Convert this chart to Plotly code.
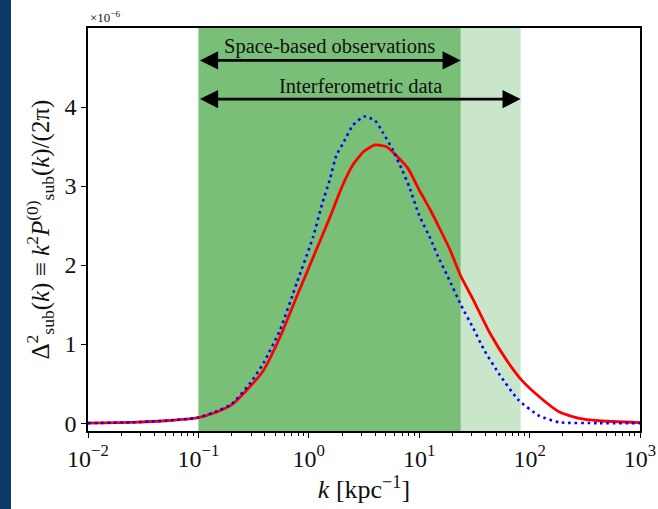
import numpy as np
import plotly.graph_objects as go

# ---- data ----
log_k_red = [-2, -1.6, -1.3, -1.0, -0.835, -0.7, -0.534, -0.41, -0.26, -0.11, 0.04, 0.19, 0.30, 0.40,
             0.50, 0.60, 0.70, 0.79, 0.90, 1.0, 1.1, 1.19, 1.28, 1.38, 1.49, 1.64, 1.79, 1.93,
             2.09, 2.27, 2.45, 2.63, 3.0]
red_vals = [0, 0.01, 0.03, 0.07, 0.14, 0.23, 0.46, 0.67, 1.09, 1.60, 2.10, 2.60, 2.99, 3.27,
            3.44, 3.52, 3.50, 3.39, 3.22, 2.95, 2.70, 2.45, 2.19, 1.85, 1.56, 1.14, 0.80, 0.54,
            0.33, 0.14, 0.06, 0.03, 0.005]

log_k_blue = [-2, -1.6, -1.3, -1.0, -0.835, -0.7, -0.534, -0.41, -0.26, -0.11, 0.04, 0.12, 0.19,
              0.25, 0.31, 0.40, 0.50, 0.60, 0.67, 0.76, 0.84, 0.91, 1.0, 1.1, 1.17, 1.26, 1.38,
              1.49, 1.59, 1.73, 1.90, 2.09, 2.27, 2.63, 3.0]
blue_vals = [0, 0.01, 0.03, 0.07, 0.15, 0.24, 0.50, 0.76, 1.18, 1.77, 2.36, 2.77, 3.08,
             3.39, 3.54, 3.77, 3.88, 3.83, 3.68, 3.46, 3.22, 2.99, 2.63, 2.34, 2.11, 1.85, 1.49,
             1.20, 0.92, 0.61, 0.29, 0.09, 0.01, 0.0, 0.0]

space_range = [0.1, 23.8]        # kpc^-1
interf_range = [0.1, 83.0]       # kpc^-1

x_tickvals = [1e-2, 1e-1, 1e0, 1e1, 1e2, 1e3]
x_ticktext = ["10<sup>−2</sup>", "10<sup>−1</sup>", "10<sup>0</sup>",
              "10<sup>1</sup>", "10<sup>2</sup>", "10<sup>3</sup>"]
y_tickvals = [0, 1, 2, 3, 4]

FONT = "Liberation Serif"

k_red = [10 ** v for v in log_k_red]
k_blue = [10 ** v for v in log_k_blue]

minor_vals = [m * 10.0 ** e for e in range(-2, 3) for m in range(2, 10)]

fig = go.Figure()

fig.add_trace(go.Scatter(x=k_red, y=red_vals, mode="lines",
                         line=dict(color="#ff0000", width=2.8, shape="spline", smoothing=0.5),
                         showlegend=False))
fig.add_trace(go.Scatter(x=k_blue, y=blue_vals, mode="lines",
                         line=dict(color="#0000ff", width=2.6, dash="2.6px,3.8px",
                                   shape="spline", smoothing=0.5),
                         showlegend=False))

# shaded regions
fig.add_shape(type="rect", xref="x", yref="paper",
              x0=space_range[1], x1=interf_range[1], y0=0, y1=1,
              fillcolor="#cae6ca", line_width=0, layer="below")
fig.add_shape(type="rect", xref="x", yref="paper",
              x0=space_range[0], x1=space_range[1], y0=0, y1=1,
              fillcolor="#7abf78", line_width=0, layer="below")

# left dark strip
fig.add_shape(type="rect", xref="paper", yref="paper",
              x0=-0.1594, x1=-0.1395, y0=-0.2, y1=1.08,
              fillcolor="#0b3a66", line_width=0, layer="below")

# arrows (annotation coords on log axes are log10 units)
for rng, yv in [(space_range, 4.59), (interf_range, 4.10)]:
    fig.add_annotation(x=np.log10(rng[1]), y=yv, ax=np.log10(rng[0]), ay=yv,
                       xref="x", yref="y", axref="x", ayref="y",
                       showarrow=True, arrowhead=2, arrowside="end+start",
                       arrowsize=1.4, arrowwidth=2.6, arrowcolor="black", text="")

fig.add_annotation(x=0.19, y=4.77, xref="x", yref="y", text="Space-based observations",
                   showarrow=False, font=dict(family=FONT, size=20.5, color="#111"))
fig.add_annotation(x=0.47, y=4.26, xref="x", yref="y", text="Interferometric data",
                   showarrow=False, font=dict(family=FONT, size=20.5, color="#111"))

# offset text
fig.add_annotation(x=0.0, y=1.003, xref="paper", yref="paper", xanchor="left", yanchor="bottom",
                   text="×10<sup>−6</sup>", showarrow=False,
                   font=dict(family=FONT, size=13, color="#111"))

# y-axis label
fig.add_annotation(x=-0.087, y=0.5, xref="paper", yref="paper", textangle=-90,
                   xanchor="center", yanchor="middle", showarrow=False,
                   text="Δ<sup>2</sup><sub>sub</sub>(<i>k</i>) ≡ <i>k</i><sup>2</sup><i>P</i><sup>(0)</sup><sub>sub</sub>(<i>k</i>)/(2π)",
                   font=dict(family=FONT, size=25, color="#111"))

fig.update_xaxes(type="log", range=[-2, 3], tickvals=x_tickvals, ticktext=x_ticktext,
                 automargin=False,
                 ticks="outside", ticklen=5, tickwidth=1.2, tickcolor="black",
                 showline=True, linecolor="black", linewidth=1.5, mirror=True,
                 showgrid=False, zeroline=False,
                 tickfont=dict(family=FONT, size=24, color="#111"),
                 minor=dict(tickvals=minor_vals, ticks="outside", ticklen=3,
                            tickwidth=1, tickcolor="black", showgrid=False),
                 title=dict(text="<i>k</i> [kpc<sup>−1</sup>]",
                            font=dict(family=FONT, size=26, color="#111"), standoff=4))
fig.update_yaxes(range=[-0.1, 5.0], tickvals=y_tickvals, automargin=False,
                 ticks="outside", ticklen=5, tickwidth=1.2, tickcolor="black",
                 showline=True, linecolor="black", linewidth=1.5, mirror=True,
                 showgrid=False, zeroline=False,
                 tickfont=dict(family=FONT, size=24, color="#111"))

fig.update_layout(width=658, height=509, margin=dict(l=88, r=18, t=28, b=78),
                  plot_bgcolor="white", paper_bgcolor="white")

fig.write_html("out.html")
